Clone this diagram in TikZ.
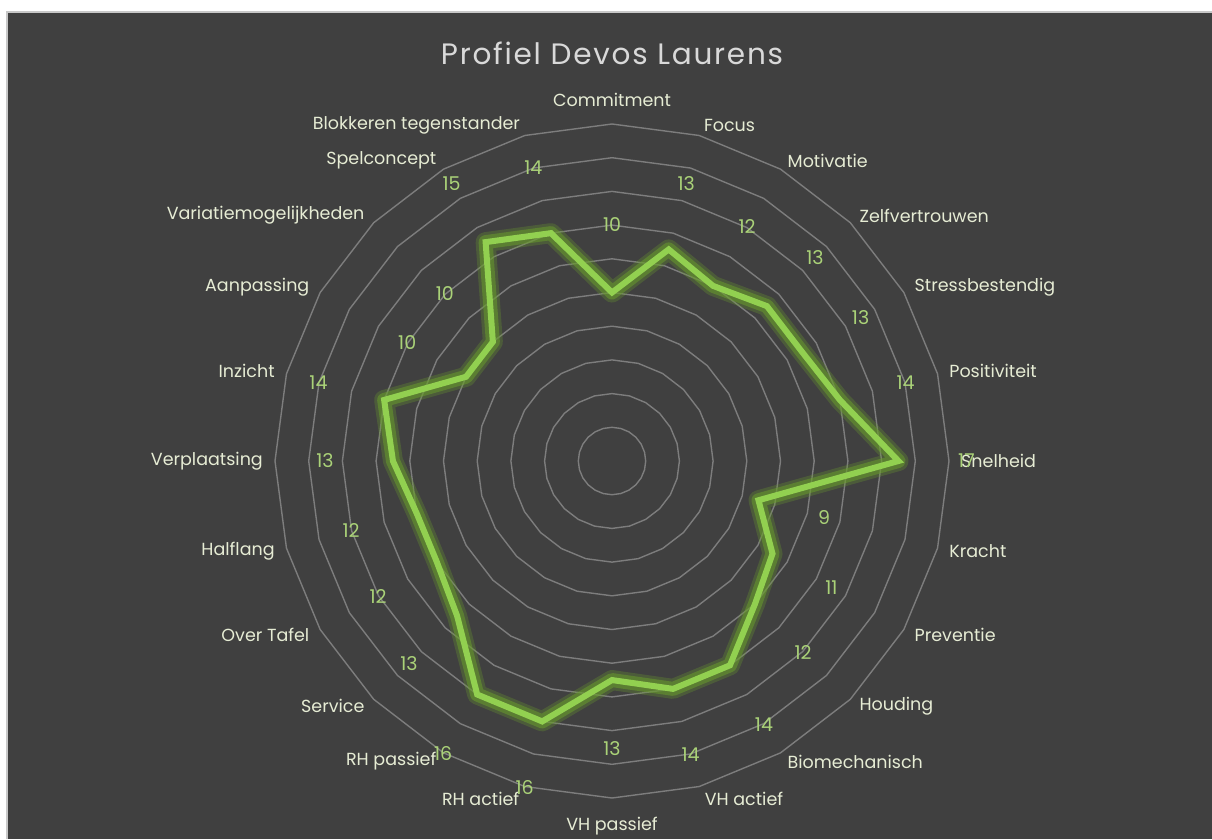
\documentclass[tikz,border=0pt]{standalone}
\usepackage{fontspec}
\setmainfont{Poppins}
\definecolor{bgc}{RGB}{64,64,64}
\definecolor{framec}{RGB}{200,200,200}
\definecolor{ringc}{RGB}{125,125,125}
\definecolor{linec}{RGB}{146,208,80}
\definecolor{glowc}{RGB}{105,155,45}
\definecolor{valc}{RGB}{170,210,120}
\definecolor{axc}{RGB}{230,236,212}
\definecolor{titlec}{RGB}{217,217,217}
\tikzset{
  ring/.style={draw=ringc, line width=1.4pt},
  axlab/.style={text=axc, inner sep=2pt, font=\fontsize{17.5}{20}\selectfont},
  vallab/.style={text=valc, inner sep=0pt, font=\fontsize{19}{22}\selectfont},
  dataline/.style={draw=linec, line width=6pt, line join=miter},
  glowa/.style={draw=glowc, line width=20pt, line join=round, draw opacity=0.3},
  glowb/.style={draw=glowc, line width=14pt, line join=round, draw opacity=0.55},
  titlestyle/.style={text=titlec, font=\fontsize{29.5}{34}\selectfont\addfontfeatures{LetterSpace=6}}
}
\begin{document}
\begin{tikzpicture}[x=1pt,y=-1pt]
\useasboundingbox (0,0) rectangle (1212,839);
\fill[white] (0,0) rectangle (1212,839);
\fill[bgc] (7,12) rectangle (1212,839);
\draw[framec, line width=2pt] (7,839) -- (7,12) -- (1212,12);
\def\cx{612}\def\cy{461}\def\unit{16.85}
\node[titlestyle] (title) at (612,53) {Profiel Devos Laurens};
% rings
\foreach \k in {1,...,10}{
  \draw[ring] ({\cx+\k*33.7*sin(0)},{\cy-\k*33.7*cos(0)})
    \foreach \a in {15,30,...,345}{ -- ({\cx+\k*33.7*sin(\a)},{\cy-\k*33.7*cos(\a)}) } -- cycle;
}
% data
\foreach \i/\v/\t/\an/\lr in {
 0/10/Commitment/south/352, 1/13/Focus/west/347, 2/12/Motivatie/west/347, 3/13/Zelfvertrouwen/west/347,
 4/13/Stressbestendig/west/347, 5/14/Positiviteit/west/347, 6/17/Snelheid/west/347, 7/9/Kracht/west/347,
 8/11/Preventie/west/347, 9/12/Houding/west/347, 10/14/Biomechanisch/west/347, 11/14/VH actief/west/350,
 12/13/VH passief/north/354, 13/16/RH actief/east/350, 14/16/RH passief/east/347, 15/13/Service/east/347,
 16/12/Over Tafel/east/347, 17/12/Halflang/east/347, 18/13/Verplaatsing/east/347, 19/14/Inzicht/east/347,
 20/10/Aanpassing/east/347, 21/10/Variatiemogelijkheden/east/347, 22/15/Spelconcept/east/347,
 23/14/Blokkeren tegenstander/east/347}{
  \pgfmathsetmacro{\ang}{15*\i}
  \pgfmathsetmacro{\rr}{\v*\unit}
  \coordinate (p\i) at ({\cx+\rr*sin(\ang)},{\cy-\rr*cos(\ang)});
  \node[axlab, anchor=\an] (lab\i) at ({\cx+\lr*sin(\ang)},{\cy-\lr*cos(\ang)}) {\t};
  \node[vallab] (val\i) at ({\cx+(\rr+68)*sin(\ang)},{\cy-(\rr+68)*cos(\ang)}) {\v};
}
\draw[glowa] (p0) \foreach \i in {1,...,23}{ -- (p\i)} -- cycle;
\draw[glowb] (p0) \foreach \i in {1,...,23}{ -- (p\i)} -- cycle;
\draw[dataline] (p0) \foreach \i in {1,...,23}{ -- (p\i)} -- cycle;
\end{tikzpicture}
\end{document}
